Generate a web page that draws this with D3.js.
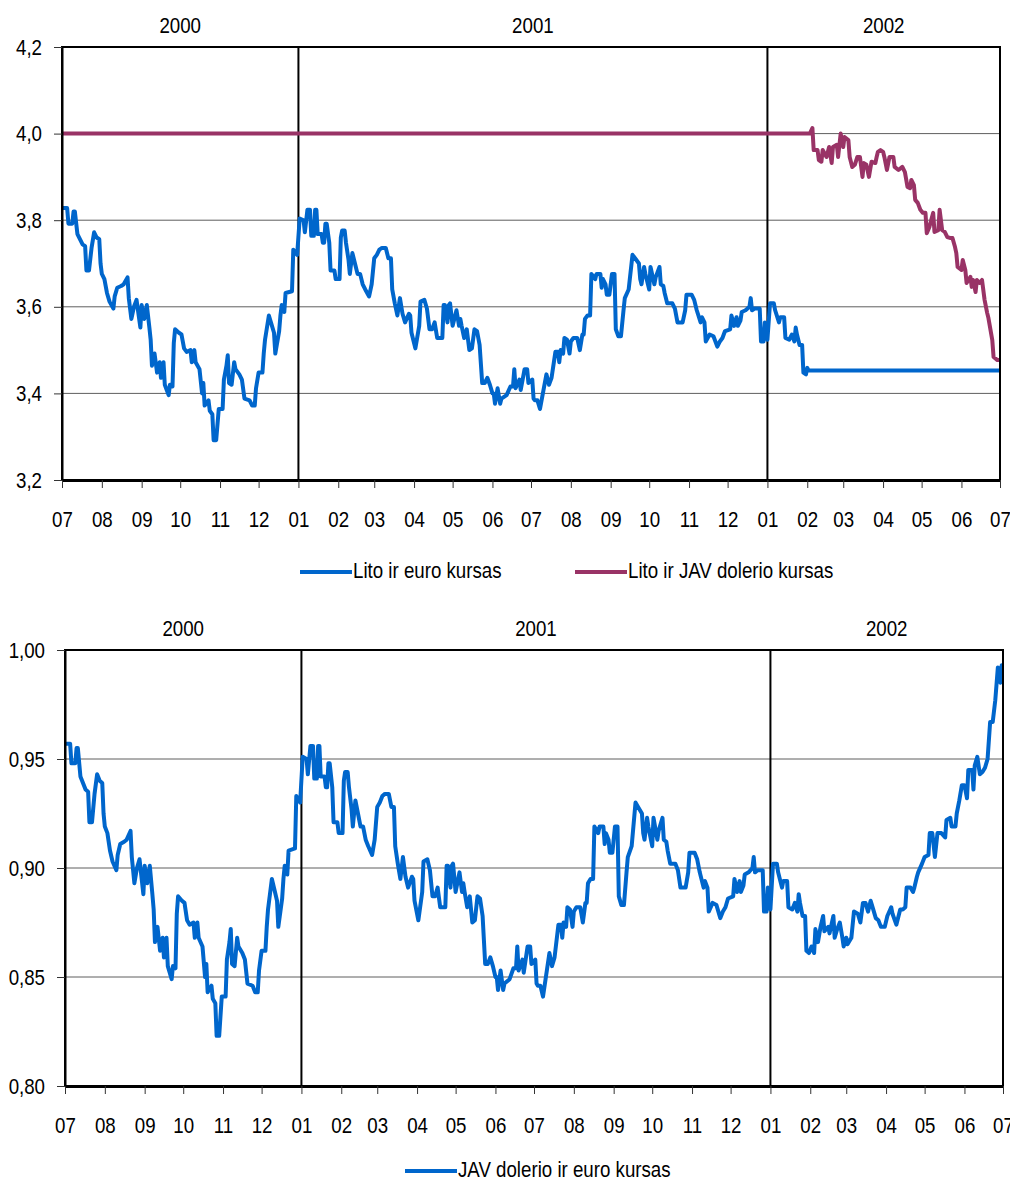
<!DOCTYPE html>
<html>
<head>
<meta charset="utf-8">
<script src="https://cdn.jsdelivr.net/npm/d3@7"></script>
<style>
    body { margin: 0; background: #fff; }
    svg { display: block; font-family: "Liberation Sans", Arial, sans-serif; }
</style>
</head>
<body>
<svg id="chart" width="1010" height="1180"></svg>
<script>
// period shown on both panels
const startDate = new Date(Date.UTC(2000, 6, 1));
const endDate = new Date(Date.UTC(2002, 6, 1));
const yearLabels = ['2000', '2001', '2002'];
const yearBounds = ['2000-07-01', '2001-01-01', '2002-01-01', '2002-07-01'];
const topTicks = [3.2, 3.4, 3.6, 3.8, 4.0, 4.2];
const bottomTicks = [0.80, 0.85, 0.90, 0.95, 1.00];
const topLegend = ['Lito ir euro kursas', 'Lito ir JAV dolerio kursas'];
const bottomLegend = ['JAV dolerio ir euro kursas'];

// [days since 2000-07-01, rate]
const ltlEur = [[0,3.828],[4,3.828],[5,3.792],[8,3.792],[9,3.82],[10,3.82],[12,3.768],[16,3.744],[18,3.74],[19,3.684],[21,3.684],[23,3.736],[25,3.772],[27,3.76],[29,3.756],[30,3.70],[31,3.676],[33,3.664],[35,3.632],[37,3.612],[40,3.596],[41,3.624],[43,3.644],[46,3.648],[48,3.652],[51,3.668],[52,3.62],[54,3.572],[56,3.60],[58,3.616],[61,3.552],[62,3.604],[64,3.572],[66,3.604],[68,3.552],[69,3.524],[70,3.464],[72,3.492],[74,3.448],[76,3.472],[77,3.436],[79,3.472],[80,3.42],[83,3.396],[84,3.42],[86,3.416],[87,3.516],[88,3.548],[91,3.54],[93,3.536],[95,3.504],[97,3.496],[100,3.50],[101,3.472],[103,3.50],[104,3.472],[107,3.456],[109,3.40],[110,3.424],[111,3.372],[114,3.384],[115,3.36],[117,3.352],[118,3.292],[120,3.292],[122,3.364],[125,3.364],[126,3.432],[128,3.464],[129,3.488],[130,3.424],[132,3.42],[134,3.472],[135,3.456],[138,3.444],[140,3.432],[142,3.388],[146,3.384],[148,3.372],[150,3.372],[151,3.412],[153,3.448],[156,3.448],[157,3.492],[158,3.524],[161,3.58],[163,3.56],[165,3.54],[166,3.492],[169,3.544],[170,3.58],[171,3.604],[173,3.588],[174,3.632],[179,3.636],[180,3.732],[183,3.72],[185,3.804],[188,3.80],[189,3.772],[191,3.824],[193,3.824],[194,3.764],[196,3.764],[197,3.824],[198,3.824],[199,3.768],[202,3.768],[203,3.748],[204,3.748],[205,3.792],[206,3.792],[208,3.748],[209,3.684],[212,3.684],[213,3.664],[216,3.664],[217,3.76],[218,3.776],[220,3.776],[221,3.748],[223,3.708],[224,3.676],[226,3.724],[228,3.70],[230,3.676],[232,3.676],[234,3.652],[236,3.64],[239,3.624],[241,3.652],[243,3.712],[245,3.72],[247,3.732],[249,3.736],[252,3.736],[254,3.712],[256,3.712],[257,3.64],[259,3.608],[261,3.58],[263,3.62],[265,3.584],[267,3.564],[270,3.584],[271,3.58],[272,3.54],[275,3.504],[278,3.556],[279,3.612],[282,3.616],[284,3.596],[286,3.548],[288,3.548],[290,3.564],[292,3.528],[296,3.528],[297,3.604],[298,3.604],[300,3.564],[301,3.604],[302,3.608],[304,3.556],[306,3.58],[307,3.592],[309,3.556],[310,3.572],[311,3.556],[313,3.528],[315,3.548],[317,3.50],[319,3.504],[321,3.548],[323,3.544],[325,3.512],[326,3.468],[327,3.424],[329,3.424],[331,3.436],[333,3.42],[335,3.40],[336,3.40],[337,3.376],[339,3.412],[341,3.376],[342,3.388],[346,3.396],[349,3.416],[351,3.416],[352,3.456],[353,3.412],[356,3.432],[357,3.408],[360,3.456],[362,3.456],[363,3.424],[366,3.432],[367,3.388],[368,3.384],[370,3.384],[372,3.364],[375,3.412],[377,3.444],[379,3.42],[381,3.436],[384,3.496],[386,3.496],[387,3.472],[388,3.50],[390,3.492],[391,3.528],[393,3.524],[395,3.492],[396,3.52],[398,3.528],[401,3.528],[403,3.50],[405,3.536],[406,3.536],[407,3.572],[409,3.58],[411,3.58],[412,3.676],[415,3.664],[416,3.676],[419,3.676],[420,3.644],[421,3.664],[423,3.652],[424,3.628],[426,3.628],[428,3.676],[430,3.676],[431,3.548],[433,3.532],[435,3.532],[437,3.592],[438,3.62],[441,3.64],[444,3.72],[446,3.712],[449,3.70],[450,3.664],[451,3.652],[453,3.692],[454,3.676],[457,3.64],[458,3.692],[461,3.652],[462,3.668],[465,3.692],[466,3.652],[468,3.648],[469,3.632],[471,3.608],[475,3.608],[477,3.596],[479,3.564],[483,3.564],[485,3.592],[486,3.628],[490,3.628],[492,3.616],[494,3.592],[497,3.564],[498,3.576],[500,3.564],[501,3.52],[504,3.536],[507,3.532],[510,3.508],[512,3.52],[514,3.528],[516,3.544],[520,3.548],[521,3.58],[523,3.556],[525,3.576],[526,3.556],[528,3.568],[529,3.588],[532,3.592],[535,3.60],[536,3.62],[537,3.592],[539,3.596],[543,3.596],[544,3.52],[546,3.52],[547,3.564],[549,3.524],[551,3.608],[554,3.608],[555,3.592],[558,3.564],[559,3.576],[562,3.576],[563,3.528],[566,3.524],[568,3.536],[570,3.52],[571,3.552],[572,3.536],[574,3.512],[576,3.512],[577,3.448],[579,3.444],[580,3.459],[581,3.453],[730,3.453]];

const ltlUsd = [[0,4.0],[582,4.0],[584,4.013],[585,3.962],[588,3.962],[589,3.939],[591,3.935],[592,3.962],[595,3.946],[597,3.969],[599,3.932],[600,3.969],[603,3.974],[604,3.946],[606,4.0],[608,3.969],[609,3.992],[612,3.985],[613,3.946],[615,3.923],[617,3.928],[619,3.946],[621,3.946],[623,3.9],[624,3.932],[626,3.928],[628,3.9],[630,3.935],[633,3.932],[634,3.946],[635,3.958],[637,3.962],[639,3.958],[640,3.946],[642,3.916],[644,3.946],[647,3.946],[648,3.923],[651,3.916],[654,3.923],[656,3.911],[658,3.877],[660,3.874],[661,3.893],[663,3.881],[664,3.847],[666,3.84],[668,3.824],[670,3.817],[672,3.817],[673,3.77],[675,3.784],[678,3.817],[679,3.773],[682,3.777],[683,3.824],[685,3.777],[687,3.773],[689,3.761],[691,3.759],[693,3.759],[695,3.738],[696,3.724],[697,3.692],[700,3.685],[701,3.708],[703,3.685],[704,3.655],[707,3.669],[708,3.646],[709,3.662],[711,3.634],[712,3.662],[714,3.655],[716,3.662],[718,3.616],[720,3.586],[721,3.574],[724,3.523],[725,3.484],[728,3.477],[730,3.477]];

const usdEur = [[0,.957],[4,.957],[5,.948],[8,.948],[9,.955],[10,.955],[12,.942],[16,.936],[18,.935],[19,.921],[21,.921],[23,.934],[25,.943],[27,.940],[29,.939],[30,.925],[31,.919],[33,.916],[35,.908],[37,.903],[40,.899],[41,.906],[43,.911],[46,.912],[48,.913],[51,.917],[52,.905],[54,.893],[56,.900],[58,.904],[61,.888],[62,.901],[64,.893],[66,.901],[68,.888],[69,.881],[70,.866],[72,.873],[74,.862],[76,.868],[77,.859],[79,.868],[80,.855],[83,.849],[84,.855],[86,.854],[87,.879],[88,.887],[91,.885],[93,.884],[95,.876],[97,.874],[100,.875],[101,.868],[103,.875],[104,.868],[107,.864],[109,.850],[110,.856],[111,.843],[114,.846],[115,.840],[117,.838],[118,.823],[120,.823],[122,.841],[125,.841],[126,.858],[128,.866],[129,.872],[130,.856],[132,.855],[134,.868],[135,.864],[138,.861],[140,.858],[142,.847],[146,.846],[148,.843],[150,.843],[151,.853],[153,.862],[156,.862],[157,.873],[158,.881],[161,.895],[163,.890],[165,.885],[166,.873],[169,.886],[170,.895],[171,.901],[173,.897],[174,.908],[179,.909],[180,.933],[183,.930],[185,.951],[188,.950],[189,.943],[191,.956],[193,.956],[194,.941],[196,.941],[197,.956],[198,.956],[199,.942],[202,.942],[203,.937],[204,.937],[205,.948],[206,.948],[208,.937],[209,.921],[212,.921],[213,.916],[216,.916],[217,.940],[218,.944],[220,.944],[221,.937],[223,.927],[224,.919],[226,.931],[228,.925],[230,.919],[232,.919],[234,.913],[236,.910],[239,.906],[241,.913],[243,.928],[245,.930],[247,.933],[249,.934],[252,.934],[254,.928],[256,.928],[257,.910],[259,.902],[261,.895],[263,.905],[265,.896],[267,.891],[270,.896],[271,.895],[272,.885],[275,.876],[278,.889],[279,.903],[282,.904],[284,.899],[286,.887],[288,.887],[290,.891],[292,.882],[296,.882],[297,.901],[298,.901],[300,.891],[301,.901],[302,.902],[304,.889],[306,.895],[307,.898],[309,.889],[310,.893],[311,.889],[313,.882],[315,.887],[317,.875],[319,.876],[321,.887],[323,.886],[325,.878],[326,.867],[327,.856],[329,.856],[331,.859],[333,.855],[335,.850],[336,.850],[337,.844],[339,.853],[341,.844],[342,.847],[346,.849],[349,.854],[351,.854],[352,.864],[353,.853],[356,.858],[357,.852],[360,.864],[362,.864],[363,.856],[366,.858],[367,.847],[368,.846],[370,.846],[372,.841],[375,.853],[377,.861],[379,.855],[381,.859],[384,.874],[386,.874],[387,.868],[388,.875],[390,.873],[391,.882],[393,.881],[395,.873],[396,.880],[398,.882],[401,.882],[403,.875],[405,.884],[406,.884],[407,.893],[409,.895],[411,.895],[412,.919],[415,.916],[416,.919],[419,.919],[420,.911],[421,.916],[423,.913],[424,.907],[426,.907],[428,.919],[430,.919],[431,.887],[433,.883],[435,.883],[437,.898],[438,.905],[441,.910],[444,.930],[446,.928],[449,.925],[450,.916],[451,.913],[453,.923],[454,.919],[457,.910],[458,.923],[461,.913],[462,.917],[465,.923],[466,.913],[468,.912],[469,.908],[471,.902],[475,.902],[477,.899],[479,.891],[483,.891],[485,.898],[486,.907],[490,.907],[492,.904],[494,.898],[497,.891],[498,.894],[500,.891],[501,.880],[504,.884],[507,.883],[510,.877],[512,.880],[514,.882],[516,.886],[520,.887],[521,.895],[523,.889],[525,.894],[526,.889],[528,.892],[529,.897],[532,.898],[535,.900],[536,.905],[537,.898],[539,.899],[543,.899],[544,.880],[546,.880],[547,.891],[549,.881],[551,.902],[554,.902],[555,.898],[558,.891],[559,.894],[562,.894],[563,.882],[566,.881],[568,.884],[570,.880],[571,.888],[572,.884],[574,.878],[576,.878],[577,.862],[579,.861],[581,.864],[583,.861],[584,.872],[586,.866],[588,.873],[590,.878],[591,.871],[594,.873],[595,.870],[598,.878],[599,.868],[601,.872],[603,.875],[605,.868],[606,.864],[608,.868],[609,.865],[612,.868],[614,.880],[617,.879],[619,.875],[621,.884],[623,.884],[625,.880],[627,.885],[629,.881],[631,.877],[633,.876],[635,.873],[638,.873],[640,.878],[643,.882],[644,.879],[647,.874],[650,.881],[652,.881],[654,.882],[655,.891],[658,.891],[660,.889],[661,.891],[663,.896],[664,.898],[667,.902],[669,.905],[672,.906],[673,.916],[675,.916],[677,.905],[679,.916],[682,.916],[685,.914],[686,.922],[689,.923],[690,.919],[693,.919],[694,.925],[696,.931],[698,.938],[700,.938],[702,.932],[703,.945],[706,.945],[707,.936],[708,.947],[710,.951],[712,.943],[714,.944],[716,.946],[718,.950],[720,.967],[722,.967],[724,.977],[726,.992],[728,.985],[729,.993],[730,.993]];

const blue = '#0066cc';
const maroon = '#993366';
const squeeze = 0.85;   // the original uses a narrow face, so condense the installed one

const svg = d3.select('#chart');
const ltLocale = d3.formatLocale({ decimal: ',', thousands: ' ', grouping: [3], currency: ['', ''] });
const parseDay = d3.utcParse('%Y-%m-%d');

// horizontally condense text, keeping its x anchor where it was
function narrow(sel) {
    sel.each(function() {
        let t = d3.select(this);
        let x0 = +t.attr('x') || 0;
        t.attr('x', x0 / squeeze).attr('transform', `scale(${squeeze},1)`);
    });
}

function drawPanel(opt) {
    let x = d3.scaleUtc().domain([startDate, endDate]).range([opt.left, opt.right]);
    let y = d3.scaleLinear().domain(d3.extent(opt.ticks)).range([opt.bottom, opt.top]);
    let g = svg.append('g');

    // horizontal gridlines
    g.selectAll('.grid')
        .data(opt.ticks.slice(1, -1))
        .join('line')
        .attr('x1', opt.left).attr('x2', opt.right)
        .attr('y1', d => y(d)).attr('y2', d => y(d))
        .attr('stroke', '#5e5e5e')
        .attr('stroke-width', 1);

    // year dividers
    let bounds = yearBounds.map(parseDay);
    g.selectAll('.yearline')
        .data(bounds.slice(1, -1))
        .join('line')
        .attr('x1', d => x(d)).attr('x2', d => x(d))
        .attr('y1', opt.top).attr('y2', opt.bottom)
        .attr('stroke', '#000')
        .attr('stroke-width', 2);

    g.selectAll('.yearlabel')
        .data(yearLabels)
        .join('text')
        .attr('x', (d, i) => (x(bounds[i]) + x(bounds[i + 1])) / 2)
        .attr('y', opt.top - 14)
        .attr('text-anchor', 'middle')
        .style('font-size', '22px')
        .text(d => d)
        .call(narrow);

    let line = d3.line()
        .x(d => x(d3.utcDay.offset(startDate, d[0])))
        .y(d => y(d[1]));

    opt.series.forEach(s => {
        g.append('path')
            .datum(s.data)
            .attr('d', line)
            .attr('fill', 'none')
            .attr('stroke', s.color)
            .attr('stroke-width', 4)
            .attr('stroke-linejoin', 'round');
    });

    // frame
    g.append('path')
        .attr('d', `M${opt.left},${opt.bottom}V${opt.top}H${opt.right}V${opt.bottom}`)
        .attr('fill', 'none')
        .attr('stroke', '#000')
        .attr('stroke-width', 2);

    let xAxis = g.append('g')
        .attr('transform', `translate(0,${opt.bottom})`)
        .call(d3.axisBottom(x)
            .ticks(d3.utcMonth.every(1))
            .tickFormat(d3.utcFormat('%m'))
            .tickSizeInner(8).tickSizeOuter(0)
            .tickPadding(23));
    xAxis.attr('font-family', null);
    xAxis.select('.domain').attr('stroke', '#000').attr('stroke-width', 3);
    xAxis.selectAll('.tick line').attr('stroke', '#333');
    xAxis.selectAll('text').style('font-size', '22px').attr('fill', '#000').call(narrow);

    let yAxis = g.append('g')
        .attr('transform', `translate(${opt.left},0)`)
        .call(d3.axisLeft(y)
            .tickValues(opt.ticks)
            .tickFormat(ltLocale.format(opt.fmt))
            .tickSizeInner(8).tickSizeOuter(0)
            .tickPadding(12));
    yAxis.attr('font-family', null);
    yAxis.select('.domain').attr('stroke', '#000').attr('stroke-width', 2);
    yAxis.selectAll('.tick line').attr('stroke', '#333');
    yAxis.selectAll('text').style('font-size', '22px').attr('fill', '#000').call(narrow);

    // legend
    let lg = g.selectAll('.legend')
        .data(opt.legend)
        .join('g')
        .attr('transform', d => `translate(${d.x},${opt.legendY})`);
    lg.append('line')
        .attr('x1', 0).attr('x2', 52)
        .attr('stroke', d => d.color)
        .attr('stroke-width', 4);
    lg.append('text')
        .attr('x', 53)
        .attr('y', 6)
        .style('font-size', '22px')
        .text(d => d.label)
        .call(narrow);
}

drawPanel({
    left: 62, right: 1000, top: 47, bottom: 480,
    ticks: topTicks, fmt: '.1f',
    series: [{ data: ltlEur, color: blue }, { data: ltlUsd, color: maroon }],
    legendY: 572,
    legend: [{ label: topLegend[0], color: blue, x: 300 }, { label: topLegend[1], color: maroon, x: 575 }]
});

drawPanel({
    left: 65, right: 1003, top: 650, bottom: 1086,
    ticks: bottomTicks, fmt: '.2f',
    series: [{ data: usdEur, color: blue }],
    legendY: 1171,
    legend: [{ label: bottomLegend[0], color: blue, x: 405 }]
});
</script>
</body>
</html>
